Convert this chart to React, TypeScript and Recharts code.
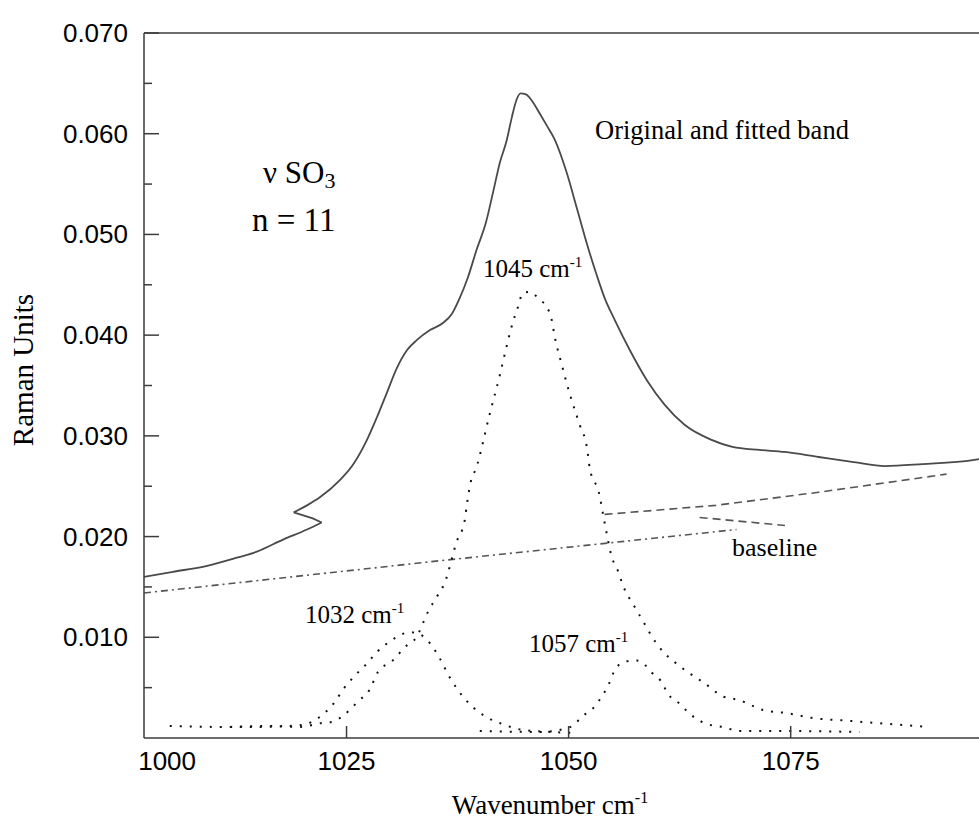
import React from "react";
import { Line, LineChart, ReferenceLine, XAxis, YAxis } from "recharts";

// [wavenumber, raman units]
const MAIN_BAND: [number, number][] = [
  [1002.2, 0.016], [1005.45, 0.0165], [1009.3, 0.0171], [1012.65, 0.0179], [1014.9, 0.0185],
  [1017.85, 0.0197], [1020.55, 0.0207], [1022.2, 0.0214], [1021.2, 0.0218], [1019.05, 0.0224],
  [1020.55, 0.0231], [1022.0, 0.0239], [1024.25, 0.0256], [1025.7, 0.0271], [1027.3, 0.0296],
  [1028.4, 0.0318], [1029.55, 0.0343], [1030.65, 0.0367], [1031.8, 0.0385], [1032.9, 0.0395],
  [1034.4, 0.0405], [1035.85, 0.0412], [1036.85, 0.0421], [1037.75, 0.0437], [1038.65, 0.0457],
  [1039.65, 0.0485], [1040.7, 0.0512], [1041.5, 0.0542], [1042.25, 0.0571], [1043.05, 0.0594],
  [1043.6, 0.0616], [1044.15, 0.0634], [1044.6, 0.064], [1045.2, 0.0639], [1045.85, 0.0633],
  [1046.75, 0.062], [1047.55, 0.0608], [1048.45, 0.0594], [1049.8, 0.0561], [1050.9, 0.0527],
  [1052.15, 0.0488], [1053.15, 0.046], [1054.05, 0.0437], [1055.2, 0.0415], [1056.9, 0.0385],
  [1058.9, 0.0354], [1060.8, 0.0331], [1063.05, 0.0311], [1066.1, 0.0296], [1068.45, 0.0289],
  [1071.5, 0.0286], [1074.3, 0.0284], [1078.15, 0.0279], [1082.1, 0.0274], [1085.6, 0.027],
  [1089.85, 0.0272], [1095.5, 0.0276], [1096.2, 0.0277],
];

const BAND_1032: [number, number][] = [
  [1005.1, 0.0012], [1010.75, 0.0011], [1015.25, 0.0011], [1018.6, 0.0012], [1020.1, 0.0013],
  [1021.1, 0.0016], [1022.55, 0.0025], [1023.7, 0.0036], [1024.6, 0.0048], [1025.95, 0.0062],
  [1027.3, 0.0074], [1028.5, 0.0086], [1029.9, 0.0096], [1031.0, 0.0102], [1032.1, 0.0105],
  [1033.25, 0.0103], [1034.4, 0.0094], [1035.5, 0.0079], [1036.5, 0.0062], [1038.4, 0.0038],
  [1040.35, 0.0023], [1042.5, 0.0014], [1044.85, 0.0008], [1047.9, 0.0006], [1050.7, 0.0005],
];

const BAND_1045: [number, number][] = [
  [1011.9, 0.0011], [1016.4, 0.0012], [1019.75, 0.0011], [1022.2, 0.0015], [1023.35, 0.0016],
  [1024.6, 0.0022], [1025.6, 0.003], [1026.25, 0.0036], [1027.6, 0.0048], [1028.5, 0.0065],
  [1030.2, 0.0077], [1031.55, 0.009], [1033.0, 0.0102], [1033.6, 0.0114], [1034.15, 0.0125],
  [1035.15, 0.014], [1036.05, 0.0154], [1037.4, 0.0195], [1038.3, 0.0216], [1038.55, 0.0232],
  [1039.0, 0.0255], [1039.55, 0.0267], [1041.1, 0.0321], [1042.25, 0.036], [1043.05, 0.039],
  [1043.7, 0.0412], [1044.3, 0.0428], [1044.85, 0.0442], [1045.65, 0.0443], [1046.75, 0.0435],
  [1047.55, 0.0428], [1048.1, 0.0415], [1048.45, 0.0398], [1049.25, 0.037], [1050.15, 0.0341],
  [1051.25, 0.0311], [1052.05, 0.0289], [1052.4, 0.0267], [1053.4, 0.0244], [1054.05, 0.0214],
  [1054.85, 0.018], [1055.55, 0.0166], [1056.1, 0.0152], [1057.45, 0.013], [1058.25, 0.0118],
  [1059.8, 0.0095], [1060.7, 0.0085], [1061.85, 0.0076], [1062.85, 0.0069], [1064.0, 0.0062],
  [1065.2, 0.0055], [1067.45, 0.0041], [1069.05, 0.0038], [1072.2, 0.0027], [1074.35, 0.0025],
  [1077.35, 0.002], [1081.65, 0.0017], [1085.9, 0.0014], [1090.65, 0.0011],
];

const BAND_1057: [number, number][] = [
  [1040.0, 0.0007], [1046.75, 0.0006], [1050.25, 0.0011], [1051.6, 0.0022], [1052.7, 0.0029],
  [1053.5, 0.0038], [1054.5, 0.0053], [1055.3, 0.0069], [1056.45, 0.0076], [1057.65, 0.0077],
  [1058.55, 0.0073], [1059.35, 0.0065], [1060.35, 0.0057], [1061.25, 0.0043], [1062.5, 0.0034],
  [1063.4, 0.0026], [1064.4, 0.0019], [1065.55, 0.0014], [1067.35, 0.0011], [1069.25, 0.0007],
  [1072.95, 0.0007], [1082.75, 0.0006],
];

// the baseline is drawn as three broken pieces in the original
const BASELINE_LOW: [number, number][] = [[1002.2, 0.0144], [1035.5, 0.0176], [1068.9, 0.0207]];
const BASELINE_HIGH: [number, number][] = [[1054.05, 0.0222], [1066.55, 0.0231], [1078.15, 0.0244], [1092.55, 0.0262]];
const BASELINE_TAIL: [number, number][] = [[1064.75, 0.0219], [1074.35, 0.0211]];

const X_DOMAIN: [number, number] = [1002.2, 1096.2];
// the scan prints "1000" at the left corner, not on a tick of its own
const X_TICKS = [1004.8, 1025, 1050, 1075];
const X_TICK_LABELS = ["1000", "1025", "1050", "1075"];
const Y_TICKS = [0.005, 0.01, 0.015, 0.02, 0.025, 0.03, 0.035, 0.04, 0.045, 0.05, 0.055, 0.06, 0.065, 0.07];

const SANS = "'Liberation Sans', Arial, sans-serif";
const SERIF = "'Liberation Serif', 'Times New Roman', serif";
const AXIS = "#3c3c3c";

const toRows = (pts: [number, number][]) => pts.map(([x, y]) => ({ x, y }));

// the measured trace folds back on itself near 1020, so it is drawn in three runs
const mainRuns = [MAIN_BAND.slice(0, 8), MAIN_BAND.slice(7, 10), MAIN_BAND.slice(9)];

function XTick({ x, y, payload }: any) {
  const i = X_TICKS.indexOf(payload.value);
  return (
    <g>
      {i > 0 && <line x1={x} x2={x} y1={y} y2={y - 12} stroke={AXIS} strokeWidth={1.5} />}
      <text x={x} y={y + 32} textAnchor="middle" fontFamily={SANS} fontSize={26} fill="#000">
        {X_TICK_LABELS[i]}
      </text>
    </g>
  );
}

function YTick({ x, y, payload }: any) {
  const v: number = payload.value;
  const major = Math.round(v * 1000) % 10 === 0;
  return (
    <g>
      <line x1={x} x2={x + (major ? 15 : 8)} y1={y} y2={y} stroke={AXIS} strokeWidth={1.5} />
      {major && (
        <text x={x - 16} y={y + 9} textAnchor="end" fontFamily={SANS} fontSize={26} fill="#000">
          {v.toFixed(3)}
        </text>
      )}
    </g>
  );
}

export default function App() {
  return (
    <div style={{ position: "relative", width: 979, height: 820, overflow: "hidden", background: "#fff" }}>
      <style>{"body{margin:0}"}</style>
      <LineChart width={979} height={820} margin={{ top: 33, right: 0, bottom: 0, left: 0 }}>
        <XAxis
          type="number"
          dataKey="x"
          domain={X_DOMAIN}
          ticks={X_TICKS}
          interval={0}
          height={82}
          allowDataOverflow
          tickSize={0}
          tickMargin={0}
          tickLine={false}
          tick={<XTick />}
          axisLine={{ stroke: AXIS, strokeWidth: 1.5 }}
        />
        <YAxis
          type="number"
          domain={[0, 0.07]}
          ticks={Y_TICKS}
          interval={0}
          width={144}
          allowDataOverflow
          tickSize={0}
          tickMargin={0}
          tickLine={false}
          tick={<YTick />}
          axisLine={{ stroke: AXIS, strokeWidth: 1.5 }}
        />
        <ReferenceLine y={0.07} stroke={AXIS} strokeWidth={1.5} />
        <Line data={toRows(BASELINE_LOW)} dataKey="y" type="linear" stroke="#555" strokeWidth={1.6} strokeDasharray="7 4 2 4" dot={false} isAnimationActive={false} />
        <Line data={toRows(BASELINE_HIGH)} dataKey="y" type="linear" stroke="#555" strokeWidth={1.6} strokeDasharray="8 5" dot={false} isAnimationActive={false} />
        <Line data={toRows(BASELINE_TAIL)} dataKey="y" type="linear" stroke="#555" strokeWidth={1.6} strokeDasharray="8 5" dot={false} isAnimationActive={false} />
        <Line data={toRows(BAND_1032)} dataKey="y" type="monotone" stroke="#111" strokeWidth={2} strokeDasharray="2 8" dot={false} isAnimationActive={false} />
        <Line data={toRows(BAND_1045)} dataKey="y" type="monotone" stroke="#111" strokeWidth={2} strokeDasharray="2 8" dot={false} isAnimationActive={false} />
        <Line data={toRows(BAND_1057)} dataKey="y" type="monotone" stroke="#111" strokeWidth={2} strokeDasharray="2 8" dot={false} isAnimationActive={false} />
        {mainRuns.map((run, i) => (
          <Line
            key={i}
            data={toRows(run)}
            dataKey="y"
            type={i === 1 ? "linear" : "monotone"}
            stroke="#4a4a4a"
            strokeWidth={1.8}
            dot={false}
            isAnimationActive={false}
          />
        ))}
      </LineChart>

      <svg width={979} height={820} style={{ position: "absolute", left: 0, top: 0, pointerEvents: "none" }}>
        <g fontFamily={SERIF} fill="#000">
          <text transform="rotate(-90)" x={-370} y={33} textAnchor="middle" fontSize={29}>Raman Units</text>
          <text x={550} y={814} textAnchor="middle" fontSize={27}>
            Wavenumber cm<tspan dy={-11} fontSize={16}>-1</tspan>
          </text>
          <text x={263} y={183} fontSize={31}>
            ν SO<tspan dy={5} fontSize={22}>3</tspan>
          </text>
          <text x={252} y={231} fontSize={33}>n = 11</text>
          <text x={595} y={139} fontSize={26.5}>Original  and fitted band</text>
          <text x={483} y={277} fontSize={25}>
            1045 cm<tspan dy={-10} fontSize={15}>-1</tspan>
          </text>
          <text x={305} y={623} fontSize={25}>
            1032 cm<tspan dy={-10} fontSize={15}>-1</tspan>
          </text>
          <text x={529} y={652} fontSize={25}>
            1057 cm<tspan dy={-10} fontSize={15}>-1</tspan>
          </text>
          <text x={732} y={556} fontSize={26}>baseline</text>
        </g>
      </svg>
    </div>
  );
}
